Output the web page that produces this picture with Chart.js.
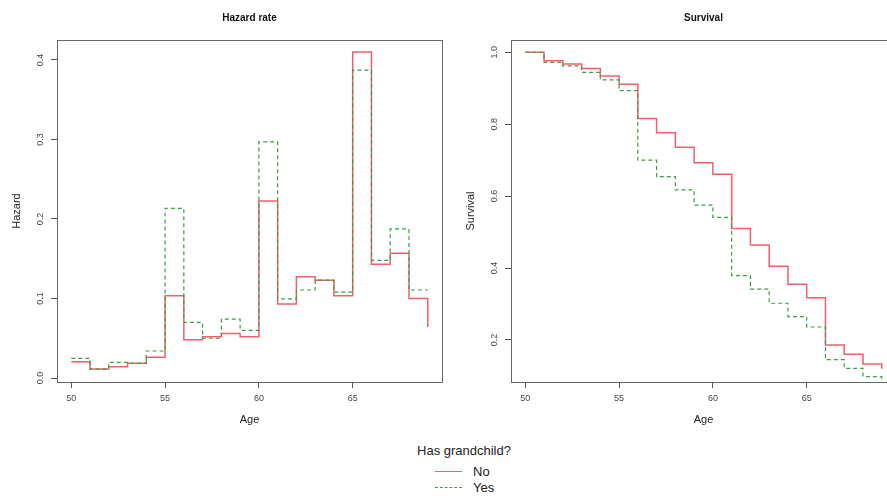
<!DOCTYPE html>
<html>
<head>
<meta charset="utf-8">
<script src="https://cdn.jsdelivr.net/npm/chart.js@4"></script>
<style>
  html, body { margin: 0; padding: 0; background: #fff; }
  body { width: 887px; height: 496px; overflow: hidden; position: relative; font-family: "Liberation Sans", Arial, sans-serif; color: #222; }
  .panel { position: absolute; top: 0; width: 450px; height: 432px; }
  #hazardWrap { left: 0; }
  #survivalWrap { left: 454px; }
  .leg { position: absolute; font-size: 13px; line-height: 16px; }
  .swatch { position: absolute; left: 435px; width: 27px; height: 0; }
</style>
</head>
<body>
<div class="panel" id="hazardWrap"><canvas id="hazardChart"></canvas></div>
<div class="panel" id="survivalWrap"><canvas id="survivalChart"></canvas></div>

<div class="leg" style="left:0; width:928px; top:443px; text-align:center;">Has grandchild?</div>
<div class="swatch" style="top:471px; border-top:1.5px solid #f0606a;"></div>
<div class="leg" style="left:473px; top:464px;">No</div>
<div class="swatch" style="top:487px; border-top:1px dashed #3f9b47;"></div>
<div class="leg" style="left:473px; top:480px;">Yes</div>

<script>
const ages = [50, 51, 52, 53, 54, 55, 56, 57, 58, 59, 60, 61, 62, 63, 64, 65, 66, 67, 68, 69];

const hazardNo = [0.0205, 0.0113, 0.0142, 0.0185, 0.026, 0.1035, 0.048, 0.052, 0.056, 0.052,
  0.2226, 0.093, 0.1274, 0.123, 0.1035, 0.41, 0.143, 0.157, 0.100, 0.064];
const hazardYes = [0.0248, 0.0113, 0.0197, 0.0185, 0.034, 0.2134, 0.070, 0.050, 0.074, 0.060,
  0.297, 0.0994, 0.1107, 0.123, 0.108, 0.387, 0.148, 0.1874, 0.1107, 0.1107];

const survivalNo = [1.0, 0.976, 0.967, 0.955, 0.934, 0.911, 0.816, 0.776, 0.736, 0.693,
  0.661, 0.510, 0.464, 0.405, 0.355, 0.317, 0.186, 0.160, 0.133, 0.120];
const survivalYes = [1.0, 0.972, 0.962, 0.944, 0.923, 0.893, 0.700, 0.654, 0.617, 0.575,
  0.541, 0.379, 0.341, 0.302, 0.265, 0.236, 0.145, 0.121, 0.098, 0.088];

const ageTicks = [50, 55, 60, 65];
const hazardTicks = [0, 0.1, 0.2, 0.3, 0.4];
const survivalTicks = [0.2, 0.4, 0.6, 0.8, 1.0];

const RED = '#f0606a';
const GREEN = '#3f9b47';
const AXIS = '#555';

Chart.defaults.font.family = '"Liberation Sans", Arial, sans-serif';
Chart.defaults.color = '#333';

// R-style box around the plotting region
const boxPlugin = {
  id: 'box',
  afterDraw(chart) {
    const { ctx, chartArea: a } = chart;
    ctx.save();
    ctx.strokeStyle = '#666';
    ctx.lineWidth = 1;
    ctx.strokeRect(Math.round(a.left) + 0.5, Math.round(a.top) + 0.5,
      Math.round(a.right - a.left), Math.round(a.bottom - a.top));
    ctx.restore();
  }
};

function toPoints(values) {
  return ages.map((a, i) => ({ x: a, y: values[i] }));
}

function makeChart(id, title, yLabel, noVals, yesVals, yMin, yMax, yTicks) {
  return new Chart(document.getElementById(id), {
    type: 'line',
    data: {
      datasets: [
        {
          label: 'No',
          data: toPoints(noVals),
          borderColor: RED,
          borderWidth: 1.5,
          stepped: true, // horizontal first: value holds until next age
          pointRadius: 0,
          fill: false,
          order: 1
        },
        {
          label: 'Yes',
          data: toPoints(yesVals),
          borderColor: GREEN,
          borderWidth: 1.2,
          borderDash: [4, 3],
          stepped: true,
          pointRadius: 0,
          fill: false,
          order: 0 // dashed line drawn on top, like the original
        }
      ]
    },
    options: {
      responsive: true,
      maintainAspectRatio: false,
      animation: false,
      layout: { padding: { left: 0, right: 8, top: 0, bottom: 0 } },
      plugins: {
        legend: { display: false },
        tooltip: { enabled: false },
        title: {
          display: true,
          text: title,
          fullSize: false,
          color: '#111',
          font: { size: 10, weight: 'bold' },
          padding: { top: 12, bottom: 16 }
        }
      },
      scales: {
        x: {
          type: 'linear',
          min: 49.24,
          max: 69.76,
          afterBuildTicks: s => { s.ticks = ageTicks.map(v => ({ value: v })); },
          afterFit: s => { s.height = 50; },
          grid: { display: true, drawOnChartArea: false, drawTicks: true, tickLength: 6, color: AXIS },
          border: { display: true, color: AXIS },
          ticks: { font: { size: 9 }, color: '#444', padding: 5, autoSkip: false, maxRotation: 0 },
          title: { display: true, text: 'Age', font: { size: 11 }, color: '#222', padding: { top: 0, bottom: 5 } }
        },
        y: {
          type: 'linear',
          min: yMin,
          max: yMax,
          afterBuildTicks: s => { s.ticks = yTicks.map(v => ({ value: v })); },
          afterFit: s => { s.width = 57; },
          grid: { display: true, drawOnChartArea: false, drawTicks: true, tickLength: 6, color: AXIS },
          border: { display: true, color: AXIS },
          ticks: {
            font: { size: 9 }, color: '#444', padding: 4, autoSkip: false,
            minRotation: 90, maxRotation: 90, crossAlign: 'center',
            callback: v => Number(v).toFixed(1)
          },
          title: { display: true, text: yLabel, font: { size: 11 }, color: '#222', padding: { top: 10, bottom: 0 } }
        }
      }
    },
    plugins: [boxPlugin]
  });
}

makeChart('hazardChart', 'Hazard rate', 'Hazard', hazardNo, hazardYes, -0.005, 0.425, hazardTicks);
makeChart('survivalChart', 'Survival', 'Survival', survivalNo, survivalYes, 0.083, 1.034, survivalTicks);
</script>
</body>
</html>
